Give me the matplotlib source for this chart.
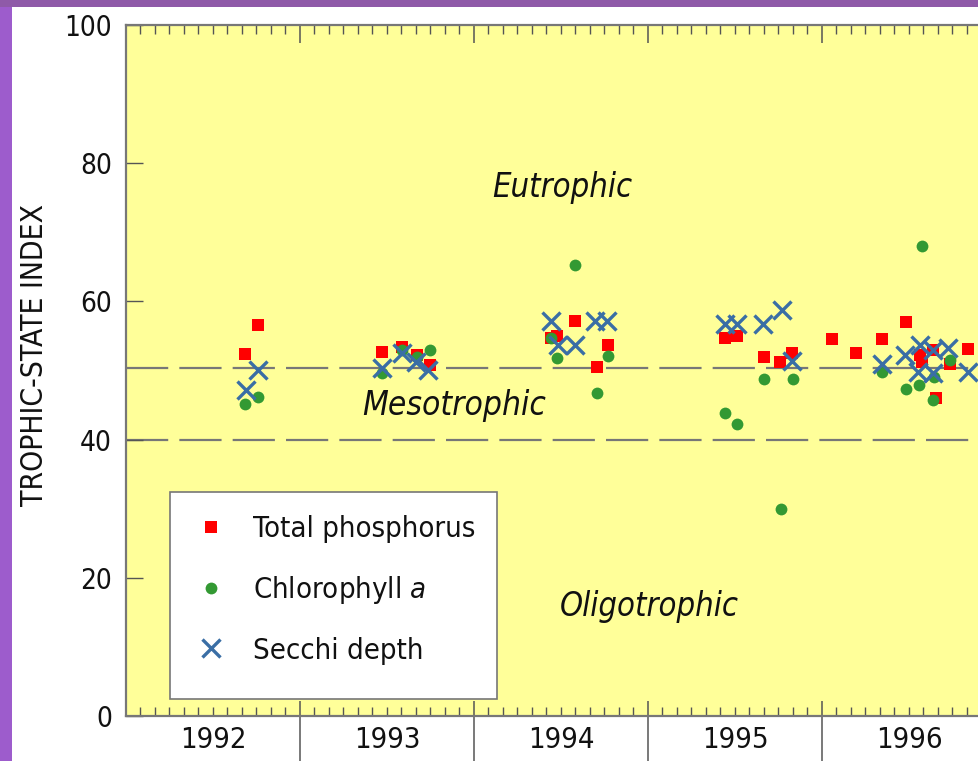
import matplotlib
matplotlib.use("Agg")
import matplotlib.pyplot as plt
from matplotlib.patches import Rectangle
from matplotlib.lines import Line2D
import matplotlib.transforms as mtransforms

plt.rcParams['font.family'] = ['DejaVu Sans']
plt.rcParams['font.stretch'] = 'condensed'

# ---------------- data ----------------
years = [1992, 1993, 1994, 1995, 1996]

tp_dates = [1992.684, 1992.759, 1993.470, 1993.584, 1993.674, 1993.747,
            1994.441, 1994.475, 1994.580, 1994.705, 1994.768,
            1995.443, 1995.513, 1995.667, 1995.759, 1995.828,
            1996.056, 1996.195, 1996.343, 1996.480, 1996.563, 1996.573,
            1996.640, 1996.655, 1996.736, 1996.841]
tp_values = [52.4, 56.6, 52.7, 53.4, 52.2, 50.8,
             54.7, 55.0, 57.1, 50.5, 53.7,
             54.7, 55.0, 52.0, 51.3, 52.5,
             54.5, 52.6, 54.5, 57.0, 52.3, 51.3,
             53.0, 46.0, 51.0, 53.1]

chl_dates = [1992.684, 1992.759, 1993.470, 1993.584, 1993.674, 1993.747,
             1994.441, 1994.475, 1994.580, 1994.705, 1994.768,
             1995.443, 1995.513, 1995.667, 1995.764, 1995.832,
             1996.343, 1996.480, 1996.555, 1996.573, 1996.645, 1996.638,
             1996.736]
chl_values = [45.2, 46.1, 49.7, 53.0, 52.0, 53.0,
              54.7, 51.8, 65.2, 46.7, 52.1,
              43.8, 42.3, 48.7, 30.0, 48.7,
              49.8, 47.3, 47.9, 68.0, 49.1, 45.7,
              51.5]

sd_dates = [1992.690, 1992.759, 1993.470, 1993.584, 1993.667, 1993.737,
            1994.441, 1994.485, 1994.580, 1994.695, 1994.762,
            1995.440, 1995.513, 1995.663, 1995.770, 1995.828,
            1996.343, 1996.478, 1996.563, 1996.553, 1996.640, 1996.640,
            1996.727, 1996.841]
sd_values = [47.2, 50.1, 50.3, 52.5, 51.3, 50.1,
             57.1, 53.7, 53.7, 57.1, 57.1,
             56.8, 56.8, 56.8, 58.8, 51.4,
             51.0, 52.2, 53.7, 49.8, 53.0, 49.6,
             53.2, 49.8]

thresholds = [40, 50.4]
zone_labels = ["Eutrophic", "Mesotrophic", "Oligotrophic"]
series_labels = ["Total phosphorus", "Chlorophyll $\\it{a}$", "Secchi depth"]

# ---------------- figure ----------------
W, H = 979, 761
fig = plt.figure(figsize=(W / 100, H / 100), dpi=100, facecolor='white')

# purple frame (top and left)
fig.patches.append(Rectangle((0, 0), 12 / W, 1, transform=fig.transFigure,
                             facecolor='#9d5ccc', edgecolor='none', zorder=0))
fig.patches.append(Rectangle((0, 1 - 7 / H), 1, 7 / H, transform=fig.transFigure,
                             facecolor='#8f5aa8', edgecolor='none', zorder=0))

ax_left, ax_right = 126, 979
ax_top, ax_bottom = 25, 716
ax = fig.add_axes([ax_left / W, (H - ax_bottom) / H,
                   (ax_right - ax_left) / W, (ax_bottom - ax_top) / H])
ax.set_facecolor('#ffff99')

for s in ['left', 'top', 'bottom']:
    ax.spines[s].set_color('#777777')
    ax.spines[s].set_linewidth(1.6)
ax.spines['right'].set_visible(False)

# y ticks
ax.set_yticks([0, 20, 40, 60, 80, 100])
ax.tick_params(axis='y', direction='in', length=12.5, width=1.0, color='#555555',
               labelsize=20, pad=10, labelcolor='#111111')
ax.set_ylabel("TROPHIC-STATE INDEX", fontsize=21.5, color='#111111')
ax.yaxis.set_label_coords(-0.090, 0.522)

# x ticks: years (major) and months (minor)
ax.set_xticks(years)
ax.set_xticks([y + m / 12 for y in years for m in range(1, 12)], minor=True)
ax.tick_params(axis='x', which='major', direction='in', length=11, width=1.1,
               color='#555555', top=True, bottom=True, labelbottom=False)
ax.tick_params(axis='x', which='minor', direction='in', length=6.5, width=1.0,
               color='#555555', top=True, bottom=True)
for t in ax.xaxis.get_major_ticks():
    t.tick2line.set_markersize(13)

# limits set after ticks so they are not expanded
px_per_year = 174.0
ax.set_xlim(1992, 1992 + (ax_right - ax_left) / px_per_year)
ax.set_ylim(0, 100)

trans = mtransforms.blended_transform_factory(ax.transData, ax.transAxes)
for y in years[1:]:
    ax.add_line(Line2D([y, y], [0, -0.07], transform=trans, color='#555555',
                       lw=1.1, clip_on=False))
for y in years:
    ax.text(y + 0.5, -0.035, str(y), transform=trans, ha='center', va='center',
            fontsize=21, color='#111111')

for th in thresholds:
    ax.axhline(th, color='#777777', lw=1.6, dashes=(19, 5), zorder=1)

ax.text(1994.51, 76.5, zone_labels[0], fontsize=23.5, style='italic', ha='center',
        va='center', color='#111111')
ax.text(1993.885, 45.0, zone_labels[1], fontsize=24, style='italic', ha='center',
        va='center', color='#111111')
ax.text(1995.01, 15.8, zone_labels[2], fontsize=23.5, style='italic', ha='center',
        va='center', color='#111111')

h1, = ax.plot(tp_dates, tp_values, ls='none', marker='s', ms=9.2, mfc='#ff0000',
              mec='#ff0000', mew=0, zorder=3, label=series_labels[0])
h2, = ax.plot(chl_dates, chl_values, ls='none', marker='o', ms=8.5, mfc='#339933',
              mec='#339933', mew=0, zorder=4, label=series_labels[1])
h3, = ax.plot(sd_dates, sd_values, ls='none', marker='x', ms=12.5, mec='#3a6ea5',
              mew=2.4, zorder=5, label=series_labels[2])

ax.add_patch(Rectangle(((170 - ax_left) / (ax_right - ax_left), (ax_bottom - 699) / (ax_bottom - ax_top)),
                       327 / (ax_right - ax_left), 207 / (ax_bottom - ax_top),
                       transform=ax.transAxes, facecolor='white', edgecolor='#777777',
                       lw=1.2, zorder=6))
leg = ax.legend(handles=[h1, h2, h3], loc='center left',
                bbox_to_anchor=((196 - ax_left) / (ax_right - ax_left), (ax_bottom - 590) / (ax_bottom - ax_top)),
                frameon=False, fontsize=21, handlelength=1.0, handletextpad=0.95,
                labelspacing=1.05, borderpad=0, borderaxespad=0, numpoints=1)
leg.set_zorder(7)
for t in leg.get_texts():
    t.set_color('#111111')

fig.savefig('out.png', dpi=100, facecolor='white')
